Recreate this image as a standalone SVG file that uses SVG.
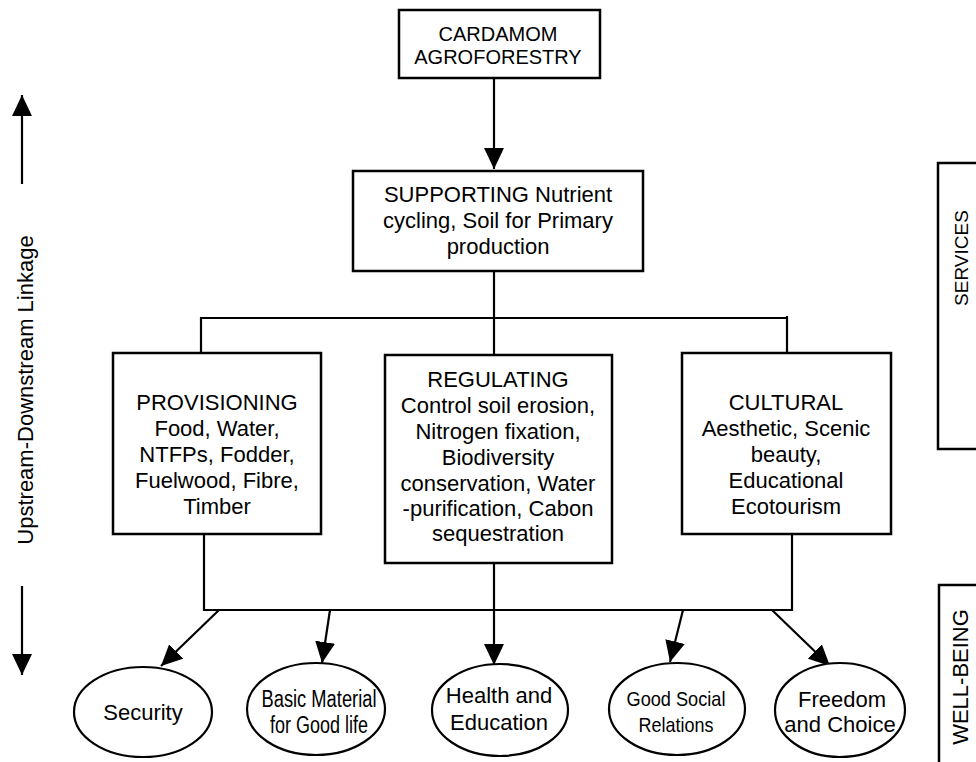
<svg xmlns="http://www.w3.org/2000/svg" width="976" height="762" viewBox="0 0 976 762">
<defs>
<style>
text{font-family:"Liberation Sans",Arial,sans-serif;font-size:22px;fill:#000;text-anchor:middle}
.box{fill:#fff;stroke:#000;stroke-width:2.5}
.ell{fill:#fff;stroke:#000;stroke-width:2.2}
.ln{fill:none;stroke:#000;stroke-width:2.2}
.ar{fill:none;stroke:#000;stroke-width:2.2;marker-end:url(#ah)}
</style>
<marker id="ah" markerUnits="userSpaceOnUse" markerWidth="21" markerHeight="20" refX="21" refY="10" orient="auto">
<path d="M0,0 L21,10 L0,20 Z" fill="#000"/>
</marker>
</defs>
<rect width="976" height="762" fill="#fff"/>

<g id="connectors">
<line class="ar" x1="494" y1="78" x2="494" y2="169"/>
<polyline class="ln" points="494,271 494,318"/>
<polyline class="ln" points="201,353 201,318 787,318"/>
<line class="ln" x1="787" y1="316" x2="787" y2="353"/>
<line class="ln" x1="494" y1="318" x2="494" y2="355"/>
<polyline class="ln" points="204,534 204,610 792,610 792,534"/>
<line class="ln" x1="494" y1="563" x2="494" y2="610"/>
<line class="ar" x1="219" y1="610" x2="161" y2="666"/>
<line class="ar" x1="330" y1="610" x2="322" y2="663"/>
<line class="ar" x1="494" y1="610" x2="494" y2="665"/>
<line class="ar" x1="683" y1="610" x2="670" y2="662"/>
<line class="ar" x1="772" y1="610" x2="830" y2="666"/>
<line class="ar" x1="22" y1="184" x2="22" y2="95"/>
<line class="ar" x1="22" y1="586" x2="22" y2="675"/>
</g>

<g id="cardamom">
<rect class="box" x="399" y="10" width="201" height="68"/>
<text x="498" y="41" style="font-size:20px">CARDAMOM</text>
<text x="498" y="64" style="font-size:20px">AGROFORESTRY</text>
</g>

<g id="supporting">
<rect class="box" x="353" y="171" width="290" height="100"/>
<text x="498" y="202">SUPPORTING Nutrient</text>
<text x="498" y="228">cycling, Soil for Primary</text>
<text x="498" y="254">production</text>
</g>

<g id="provisioning">
<rect class="box" x="113" y="353" width="208" height="181"/>
<text x="217" y="410">PROVISIONING</text>
<text x="217" y="436">Food, Water,</text>
<text x="217" y="462">NTFPs, Fodder,</text>
<text x="217" y="488">Fuelwood, Fibre,</text>
<text x="217" y="514">Timber</text>
</g>

<g id="regulating">
<rect class="box" x="385" y="355" width="227" height="208"/>
<text x="498" y="387">REGULATING</text>
<text x="498" y="413">Control soil erosion,</text>
<text x="498" y="439">Nitrogen fixation,</text>
<text x="498" y="465">Biodiversity</text>
<text x="498" y="491">conservation, Water</text>
<text x="498" y="516">-purification, Cabon</text>
<text x="498" y="541">sequestration</text>
</g>

<g id="cultural">
<rect class="box" x="682" y="353" width="209" height="181"/>
<text x="786" y="410">CULTURAL</text>
<text x="786" y="436">Aesthetic, Scenic</text>
<text x="786" y="462">beauty,</text>
<text x="786" y="488">Educational</text>
<text x="786" y="514">Ecotourism</text>
</g>

<g id="security">
<ellipse class="ell" cx="143" cy="712" rx="69" ry="45"/>
<text x="143" y="720">Security</text>
</g>

<g id="basic-material">
<ellipse class="ell" cx="316" cy="709" rx="69" ry="46"/>
<text x="319" y="707" style="font-size:23px" textLength="115" lengthAdjust="spacingAndGlyphs">Basic Material</text>
<text x="319" y="733" style="font-size:23px" textLength="98" lengthAdjust="spacingAndGlyphs">for Good life</text>
</g>

<g id="health">
<ellipse class="ell" cx="500" cy="710" rx="68" ry="46"/>
<text x="499" y="703">Health and</text>
<text x="499" y="730">Education</text>
</g>

<g id="social">
<ellipse class="ell" cx="677" cy="709" rx="68" ry="46"/>
<text x="676" y="706" style="font-size:21px" textLength="99" lengthAdjust="spacingAndGlyphs">Good Social</text>
<text x="676" y="732" style="font-size:21px" textLength="75" lengthAdjust="spacingAndGlyphs">Relations</text>
</g>

<g id="freedom">
<ellipse class="ell" cx="840" cy="710" rx="65" ry="47"/>
<text x="842" y="707">Freedom</text>
<text x="840" y="732">and Choice</text>
</g>

<g id="axis-label">
<text transform="translate(33,390) rotate(-90)">Upstream-Downstream Linkage</text>
</g>

<g id="services">
<rect class="box" x="938" y="163" width="50" height="286"/>
<text transform="translate(968,258) rotate(-90)" style="font-size:19px">SERVICES</text>
</g>

<g id="well-being">
<rect class="box" x="939" y="585" width="50" height="190"/>
<text transform="translate(968,677) rotate(-90)">WELL-BEING</text>
</g>
</svg>
